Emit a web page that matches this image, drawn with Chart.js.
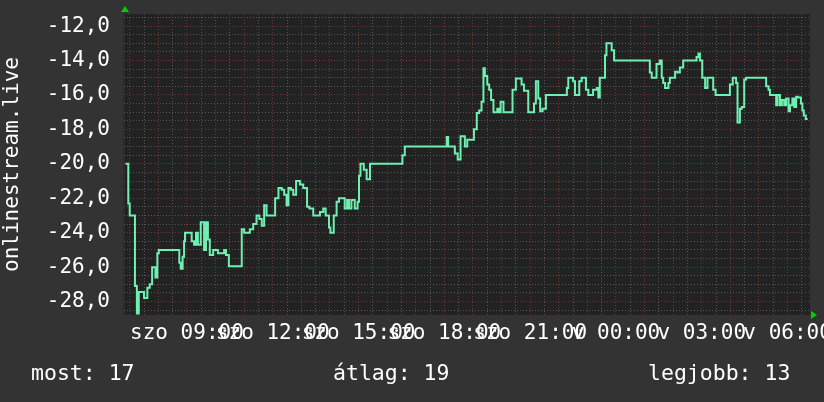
<!DOCTYPE html>
<html>
<head>
<meta charset="utf-8">
<script src="https://cdn.jsdelivr.net/npm/chart.js"></script>
<style>
  body { margin: 0; background: #333333; }
  #wrap { position: relative; width: 824px; height: 402px; }
  canvas { display: block; }
  .leg { position: absolute; top: 361px; color: #fff; font: 21.5px/24px "DejaVu Sans Mono", monospace; white-space: pre; }
</style>
</head>
<body>
<div id="wrap">
  <canvas id="rankChart" width="824" height="402"></canvas>
  <div class="leg" id="leg0" style="left:31px"></div>
  <div class="leg" id="leg1" style="left:333px"></div>
  <div class="leg" id="leg2" style="left:648px"></div>
</div>
<script>
// minutes since Saturday 00:00
const times = [
  411, 417, 420, 431, 435, 439, 450, 457, 462, 467,
  474, 478, 481, 524, 527, 531, 534, 536, 550, 555,
  559, 563, 569, 576, 580, 584, 588, 595, 605, 618,
  622, 628, 655, 660, 672, 679, 686, 692, 697, 702,
  707, 725, 732, 739, 744, 749, 753, 758, 763, 769,
  777, 784, 792, 797, 805, 819, 826, 831, 838, 841,
  848, 854, 859, 871, 876, 880, 885, 892, 898, 901,
  904, 911, 917, 924, 992, 997, 1085, 1088, 1102, 1108,
  1114, 1123, 1128, 1142, 1148, 1153, 1158, 1162, 1165, 1170,
  1174, 1178, 1183, 1191, 1195, 1198, 1204, 1223, 1230, 1242,
  1247, 1256, 1268, 1272, 1277, 1281, 1286, 1293, 1337, 1340,
  1350, 1354, 1363, 1368, 1377, 1382, 1392, 1400, 1403, 1406,
  1417, 1420, 1431, 1436, 1511, 1515, 1525, 1532, 1536, 1539,
  1543, 1550, 1553, 1564, 1569, 1574, 1581, 1609, 1613, 1616,
  1621, 1627, 1632, 1644, 1649, 1679, 1685, 1692, 1695, 1700,
  1704, 1709, 1713, 1755, 1760, 1763, 1776, 1779, 1784, 1788,
  1793, 1797, 1802, 1805, 1810, 1814, 1818, 1822, 1828, 1831,
  1834, 1838, 1842
];
const rank = [
  -20, -22.3, -23, -27.1, -28.7, -27.45, -27.8, -27.2, -27, -26,
  -26.6, -25.2, -25, -25.75, -26.1, -25.4, -24.5, -24, -24.5, -24.7,
  -24, -24.7, -23.4, -25, -23.4, -24.4, -25.3, -25, -25.2, -25,
  -25.3, -25.95, -23.8, -24, -23.8, -23.5, -23, -23.2, -23.6, -22.4,
  -23, -22, -21.4, -21.5, -21.8, -22.4, -21.4, -21.5, -21.8, -21,
  -21.2, -21.4, -22.5, -22.6, -23, -22.8, -22.6, -23, -23.7, -24,
  -23, -22.2, -22, -22.6, -22.1, -22.6, -22.1, -22.6, -22.2, -20.7,
  -20, -20.35, -20.9, -20, -19.5, -19, -18.45, -19, -19.4, -19.75,
  -18.4, -19, -18.6, -18, -17.05, -16.9, -16.4, -14.45, -14.9, -15.4,
  -15.7, -16.3, -17, -16.8, -17, -16.4, -17, -15.7, -15.05, -15.4,
  -15.75, -17, -16.5, -15.2, -16.2, -16.95, -16.8, -16, -15.6, -15,
  -15.2, -16, -15.2, -15, -15.7, -16, -15.7, -15.6, -16.15, -15,
  -13.7, -13, -13.4, -14, -14.7, -15, -14.2, -14, -15, -15.3,
  -15.6, -15.3, -15, -14.65, -14.7, -14.4, -14, -13.8, -13.6, -14,
  -15, -15.6, -15, -15.7, -16, -15.4, -15, -15.3, -17.6, -16.8,
  -16.7, -15.1, -15, -15.5, -15.7, -16, -16.6, -16, -16.6, -16.3,
  -16.6, -16.2, -16.95, -16.6, -16.2, -16.7, -16.1, -16.15, -16.5, -16.9,
  -17.2, -17.4, -17.4
];

const xTickMinutes = [540, 720, 900, 1080, 1260, 1440, 1620, 1800];
const xTickLabels = ['szo 09:00', 'szo 12:00', 'szo 15:00', 'szo 18:00', 'szo 21:00', 'v 00:00', 'v 03:00', 'v 06:00'];
const yTickValues = [-12, -14, -16, -18, -20, -22, -24, -26, -28];
const yTickLabels = ['-12,0', '-14,0', '-16,0', '-18,0', '-20,0', '-22,0', '-24,0', '-26,0', '-28,0'];

const legendNames = ['most', 'átlag', 'legjobb'];
const legendValues = [17, 19, 13];

legendNames.forEach((n, i) => {
  document.getElementById('leg' + i).textContent = n + ': ' + legendValues[i];
});

const FONT = 'DejaVu Sans Mono';
const MINOR = '#555555';
const MAJOR = '#6e3838';

const plotDecor = {
  id: 'plotDecor',
  beforeDraw(chart) {
    const { ctx, chartArea: a } = chart;
    ctx.save();
    ctx.fillStyle = '#222222';
    ctx.fillRect(a.left, a.top, a.right - a.left, a.bottom - a.top);
    // slightly lighter axis strip on the left edge
    ctx.fillStyle = '#2c2c2c';
    ctx.fillRect(a.left - 1, a.top, 2, a.bottom - a.top);
    ctx.restore();
  },
  afterDraw(chart) {
    const { ctx, chartArea: a } = chart;
    ctx.save();
    ctx.fillStyle = '#00d000';
    // arrow on top of y axis
    ctx.beginPath();
    ctx.moveTo(a.left - 3, a.top - 2);
    ctx.lineTo(a.left + 5, a.top - 2);
    ctx.lineTo(a.left + 1, a.top - 8);
    ctx.closePath();
    ctx.fill();
    // arrow at end of x axis
    ctx.beginPath();
    ctx.moveTo(a.right + 1, a.bottom - 4);
    ctx.lineTo(a.right + 1, a.bottom + 4);
    ctx.lineTo(a.right + 7, a.bottom);
    ctx.closePath();
    ctx.fill();
    ctx.restore();
  }
};

new Chart(document.getElementById('rankChart'), {
  type: 'line',
  data: {
    datasets: [{
      data: times.map((t, i) => ({ x: t, y: rank[i] })),
      borderColor: '#6ef0b2',
      borderWidth: 2,
      pointRadius: 0,
      stepped: 'before',
      fill: false
    }]
  },
  options: {
    responsive: false,
    animation: false,
    devicePixelRatio: 1,
    layout: { padding: { left: 0, top: 14, right: 14, bottom: 0 } },
    plugins: { legend: { display: false }, tooltip: { enabled: false } },
    scales: {
      x: {
        type: 'linear',
        min: 408,
        max: 1847,
        afterBuildTicks: (s) => {
          const t = [];
          for (let m = 420; m < 1847; m += 30) t.push({ value: m });
          s.ticks = t;
        },
        afterFit: (s) => { s.height = 87; s.paddingLeft = 0; s.paddingRight = 0; },
        grid: {
          drawTicks: false,
          color: (c) => (c.tick.value % 60 === 0 ? MAJOR : MINOR)
        },
        border: { display: false, dash: [1, 2] },
        ticks: {
          autoSkip: false,
          maxRotation: 0,
          minRotation: 0,
          padding: 6,
          color: '#ffffff',
          font: { family: FONT, size: 21 },
          callback: (v) => {
            const i = xTickMinutes.indexOf(v);
            return i >= 0 ? xTickLabels[i] : '';
          }
        }
      },
      y: {
        type: 'linear',
        min: -28.78,
        max: -11.3,
        afterBuildTicks: (s) => {
          const t = [];
          for (let v = -28.5; v <= -11.5; v += 0.5) t.push({ value: v });
          s.ticks = t;
        },
        afterFit: (s) => { s.width = 124; s.paddingTop = 0; s.paddingBottom = 0; },
        grid: {
          drawTicks: false,
          color: (c) => (c.tick.value % 2 === 0 ? MAJOR : MINOR)
        },
        border: { display: false, dash: [1, 2] },
        title: {
          display: true,
          text: 'onlinestream.live',
          color: '#ffffff',
          padding: 0,
          font: { family: FONT, size: 21 }
        },
        ticks: {
          autoSkip: false,
          padding: 14,
          color: '#ffffff',
          font: { family: FONT, size: 21 },
          callback: (v) => {
            const i = yTickValues.indexOf(v);
            return i >= 0 ? yTickLabels[i] : '';
          }
        }
      }
    }
  },
  plugins: [plotDecor]
});
</script>
</body>
</html>
